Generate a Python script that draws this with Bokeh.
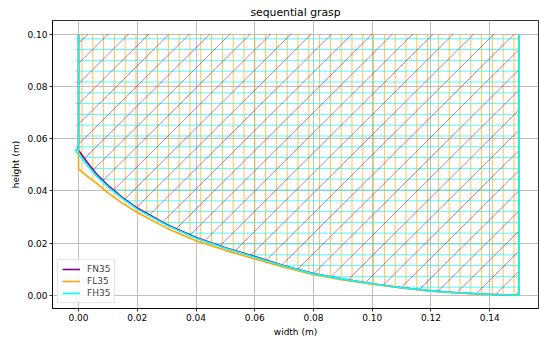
import numpy as np
from bokeh.plotting import figure
from bokeh.models import Range1d, FixedTicker, PrintfTickFormatter, Legend, LegendItem
from bokeh.embed import file_html
from bokeh.resources import INLINE

# ---- data ----
x_left = 0.0
x_right = 0.15
y_top = 0.10

fn35_x = [-0.0003, 0.0, 0.003, 0.006, 0.01, 0.015, 0.02, 0.03, 0.04, 0.05, 0.06,
          0.07, 0.08, 0.09, 0.10, 0.11, 0.12, 0.13, 0.14, 0.15]
fn35_y = [0.0565, 0.0555, 0.0508, 0.0466, 0.0421, 0.0374, 0.0334, 0.0271, 0.0221, 0.0182, 0.0148,
          0.0113, 0.0083, 0.0062, 0.0044, 0.0029, 0.0017, 0.0009, 0.0004, 0.0]

fl35_x = [0.0, 0.003, 0.006, 0.01, 0.015, 0.02, 0.03, 0.04, 0.05, 0.06,
          0.07, 0.08, 0.09, 0.10, 0.11, 0.12, 0.13, 0.14, 0.15]
fl35_y = [0.0484, 0.0455, 0.0430, 0.0392, 0.0352, 0.0317, 0.0257, 0.0209, 0.0172, 0.0139,
          0.0107, 0.0079, 0.0059, 0.0042, 0.0028, 0.0016, 0.0008, 0.0003, 0.0]

fh35_x = [-0.0011, 0.0, 0.003, 0.006, 0.01, 0.015, 0.02, 0.03, 0.04, 0.05, 0.06,
          0.07, 0.08, 0.09, 0.10, 0.11, 0.12, 0.13, 0.14, 0.15]
fh35_y = [0.0557, 0.0540, 0.0497, 0.0458, 0.0415, 0.0370, 0.0330, 0.0268, 0.0218, 0.0180, 0.0146,
          0.0112, 0.0082, 0.0062, 0.0044, 0.0029, 0.0017, 0.0009, 0.0004, 0.0]

x_ticks = [0.0, 0.02, 0.04, 0.06, 0.08, 0.10, 0.12, 0.14]
y_ticks = [0.0, 0.02, 0.04, 0.06, 0.08, 0.10]

FONT = "DejaVu Sans"
X_RANGE = (-0.00886, 0.1566)
Y_RANGE = (-0.00505, 0.10517)
W, H = 540, 339
BL, BR, BT, BB = 52, 2, 20, 29

p = figure(width=W, height=H, output_backend="svg", toolbar_location=None,
           x_range=Range1d(*X_RANGE), y_range=Range1d(*Y_RANGE),
           min_border_left=BL, min_border_right=BR, min_border_top=BT, min_border_bottom=BB,
           title="sequential grasp")

p.title.align = "center"
p.title.text_font = FONT
p.title.text_font_size = "10.8px"
p.title.text_font_style = "normal"
p.title.text_color = "black"
p.title.standoff = 4

p.outline_line_color = "black"
p.outline_line_width = 0.8
p.background_fill_color = "white"
p.border_fill_color = "white"

for ax in (p.xaxis[0], p.yaxis[0]):
    ax.axis_line_color = "black"
    ax.axis_line_width = 0.8
    ax.major_tick_line_color = "black"
    ax.major_tick_line_width = 0.8
    ax.major_tick_out = 3
    ax.major_tick_in = 0
    ax.minor_tick_line_color = None
    ax.major_label_text_font = FONT
    ax.major_label_text_font_size = "9px"
    ax.major_label_text_color = "black"
    ax.axis_label_text_font = FONT
    ax.axis_label_text_font_size = "9px"
    ax.axis_label_text_font_style = "normal"
    ax.axis_label_text_color = "black"
    ax.major_label_standoff = 2
    ax.axis_label_standoff = 3
    ax.formatter = PrintfTickFormatter(format="%.2f")

p.xaxis[0].ticker = FixedTicker(ticks=x_ticks)
p.yaxis[0].ticker = FixedTicker(ticks=y_ticks)
p.xaxis[0].axis_label = "width (m)"
p.yaxis[0].axis_label = "height (m)"

for g in (p.xgrid[0], p.ygrid[0]):
    g.grid_line_color = "#b0b0b0"
    g.grid_line_width = 0.8
p.xgrid[0].ticker = FixedTicker(ticks=x_ticks)
p.ygrid[0].ticker = FixedTicker(ticks=y_ticks)

# ---- hatched regions (between each curve and the top boundary) ----
# FL35: vertical hatch, FH35: horizontal hatch (built-in Bokeh hatches)
for xs, ys, color, hatch in [(fl35_x, fl35_y, "orange", "|"), (fh35_x, fh35_y, "cyan", "-")]:
    px = list(xs) + [x_right, xs[0]]
    py = list(ys) + [y_top, y_top]
    p.patch(px, py, fill_color=None, line_color=None, hatch_pattern=hatch,
            hatch_color=color, hatch_scale=10.8, hatch_weight=1, hatch_alpha=0.7)

# FN35: 45-degree "/" hatch built as line segments clipped to the region
px_per_x = (W - BL - BR) / (X_RANGE[1] - X_RANGE[0])
px_per_y = (H - BT - BB) / (Y_RANGE[1] - Y_RANGE[0])
slope = px_per_x / px_per_y           # data slope that looks like 45 degrees
step = 20.3 / px_per_x                # horizontal spacing of hatch lines
cx = np.asarray(fn35_x)
cy = np.asarray(fn35_y)


def curve(x):
    return np.interp(x, cx, cy)


x0s, y0s, x1s, y1s = [], [], [], []
k_min = int(np.floor((cx[0] - 0.10) / step)) - 1
k_max = int(np.ceil((x_right + y_top / slope - 0.10) / step)) + 1
for k in range(k_min, k_max + 1):
    c = 0.10 + k * step              # where the line meets y = y_top

    def line(x):
        return y_top - slope * (c - x)

    if c < cx[0]:
        continue
    # upper-right end
    if c <= x_right:
        tx, ty = c, y_top
    else:
        tx, ty = x_right, line(x_right)
    # lower-left end: intersection with the curve, or the left boundary
    lo, hi = cx[0], tx
    if line(lo) - curve(lo) >= 0:
        bx = lo
    else:
        if line(hi) - curve(hi) < 0:
            continue
        for _ in range(60):
            mid = 0.5 * (lo + hi)
            if line(mid) - curve(mid) < 0:
                lo = mid
            else:
                hi = mid
        bx = hi
    by = line(bx)
    x0s.append(bx); y0s.append(by); x1s.append(tx); y1s.append(ty)

p.segment(x0=x0s, y0=y0s, x1=x1s, y1=y1s, line_color="purple", line_alpha=0.5, line_width=1)

# ---- outlines / curves ----
items = []
for name, xs, ys, color in [("FN35", fn35_x, fn35_y, "purple"),
                            ("FL35", fl35_x, fl35_y, "orange"),
                            ("FH35", fh35_x, fh35_y, "cyan")]:
    lx = [x_left, x_left] + list(xs) + [x_right]
    ly = [y_top, ys[0]] + list(ys) + [y_top]
    r = p.line(lx, ly, line_color=color, line_width=1.6)
    items.append(LegendItem(label=name, renderers=[r]))

legend = Legend(items=items, location="bottom_left")
legend.label_text_font = FONT
legend.label_text_font_size = "9px"
legend.border_line_color = "#cccccc"
legend.border_line_width = 1
legend.background_fill_alpha = 0.8
legend.glyph_width = 18
legend.glyph_height = 10
legend.label_height = 10
legend.spacing = 2
legend.padding = 4
legend.margin = 5
legend.label_standoff = 7
p.add_layout(legend)

open("out.html", "w").write(file_html(p, INLINE))
